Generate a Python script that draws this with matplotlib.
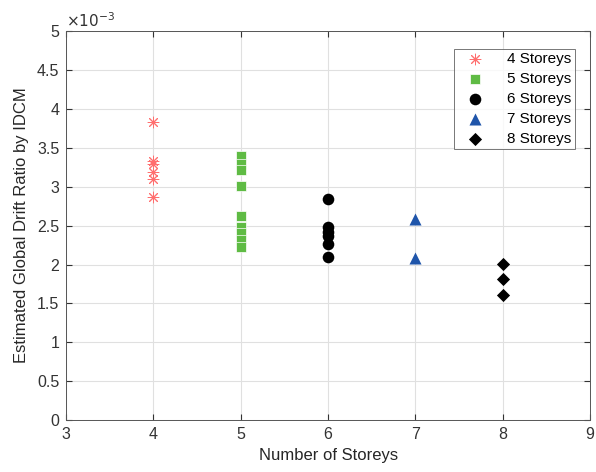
import numpy as np
import matplotlib.pyplot as plt
from matplotlib.ticker import FuncFormatter, MultipleLocator

plt.rcParams['font.family'] = ['Liberation Sans', 'DejaVu Sans']

# Estimated global drift ratio (x 1e-3) per building height
drift_4 = [3.83, 3.33, 3.29, 3.19, 3.10, 2.87]
drift_5 = [3.40, 3.29, 3.22, 3.01, 2.63, 2.48, 2.40, 2.32, 2.23]
drift_6 = [2.84, 2.48, 2.42, 2.37, 2.26, 2.10]
drift_7 = [2.58, 2.08]
drift_8 = [2.01, 1.81, 1.61]

storeys = [4, 5, 6, 7, 8]
labels = ['4 Storeys', '5 Storeys', '6 Storeys', '7 Storeys', '8 Storeys']

series = [drift_4, drift_5, drift_6, drift_7, drift_8]
styles = [
    dict(marker=(8, 2, 0), color='#ff6e6e', s=60, lw=0.7, ec=None),
    dict(marker='s', color='#5fbb44', s=60, lw=0.5, ec='white'),
    dict(marker='o', color='black', s=70, lw=0, ec=None),
    dict(marker='^', color='#1f55aa', s=75, lw=0, ec=None),
    dict(marker='D', color='black', s=45, lw=0, ec=None),
]

fig = plt.figure(figsize=(5.96, 4.72), dpi=100)
ax = fig.add_axes([0.111, 0.110, 0.879, 0.824])

for n, vals, lab, st in zip(storeys, series, labels, styles):
    vals = np.array(vals) * 1e-3
    kw = dict(marker=st['marker'], s=st['s'], linewidths=st['lw'],
              label=lab, zorder=3)
    if st['ec'] is None:
        ax.scatter([n] * len(vals), vals, color=st['color'], **kw)
    else:
        ax.scatter([n] * len(vals), vals, facecolor=st['color'],
                   edgecolor=st['ec'], **kw)

ax.set_xlim(3, 9)
ax.set_ylim(0, 5e-3)
ax.xaxis.set_major_locator(MultipleLocator(1))
ax.yaxis.set_major_locator(MultipleLocator(0.5e-3))
ax.yaxis.set_major_formatter(FuncFormatter(lambda v, p: f'{v * 1e3:g}'))
ax.text(0.0, 1.003, r'$\times10^{-3}$', transform=ax.transAxes, fontsize=11,
        ha='left', va='bottom', color='#333333')

ax.grid(True, color='#e0e0e0', linewidth=0.8)
ax.set_axisbelow(True)
ax.tick_params(direction='in', labelsize=11.5, colors='#333333', length=4,
               top=True, right=True, pad=5)
for sp in ax.spines.values():
    sp.set_color('#555555')
    sp.set_linewidth(0.7)

ax.set_xlabel('Number of Storeys', fontsize=12, color='#262626', labelpad=4)
ax.set_ylabel('Estimated Global Drift Ratio by IDCM', fontsize=12,
              color='#262626', labelpad=6)

leg = ax.legend(loc='upper right', bbox_to_anchor=(0.986, 0.975), fontsize=11,
                frameon=True, fancybox=False, edgecolor='#555555',
                handlelength=2.2, handletextpad=1.0, borderpad=0.25,
                labelspacing=0.38, borderaxespad=0.5)
leg.get_frame().set_linewidth(0.7)

fig.savefig('out.png', dpi=100)
